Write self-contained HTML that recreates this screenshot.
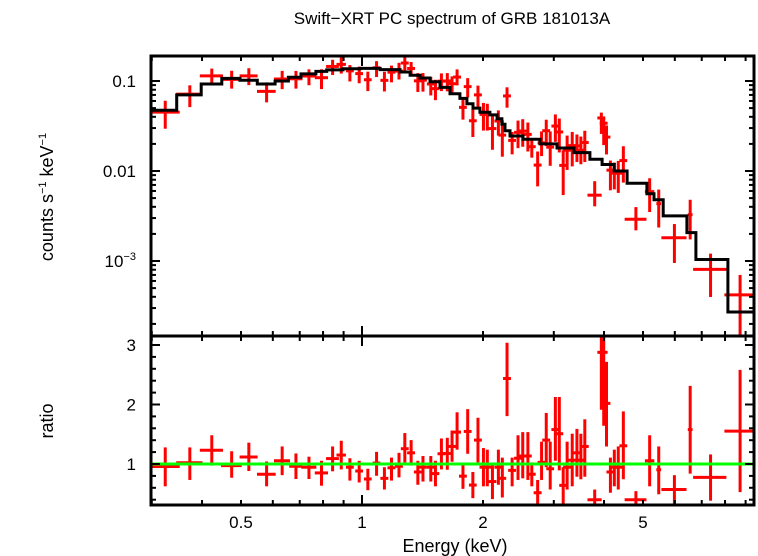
<!DOCTYPE html>
<html><head><meta charset="utf-8"><style>
html,body{margin:0;padding:0;background:#fff}
svg{display:block;font-family:"Liberation Sans",Arial,sans-serif}
</style></head><body>
<svg id="chart" width="758" height="556" viewBox="0 0 758 556" xmlns="http://www.w3.org/2000/svg">
<rect x="0" y="0" width="758" height="556" fill="#fff"/>
<text x="452" y="24" font-size="17" text-anchor="middle">Swift−XRT PC spectrum of GRB 181013A</text>
<text transform="translate(53,197) rotate(-90)" font-size="18" text-anchor="middle">counts s<tspan font-size="11" dy="-7">−1</tspan><tspan dy="7"> keV</tspan><tspan font-size="11" dy="-7">−1</tspan></text>
<text transform="translate(53,421) rotate(-90)" font-size="18" text-anchor="middle">ratio</text>
<text x="455" y="552" font-size="18" text-anchor="middle">Energy (keV)</text>
<g id="marks"></g>
<g id="axes"></g>
</svg>
<script>
const energies=[0.324,0.373,0.423,0.474,0.523,0.579,0.633,0.685,0.738,0.793,0.845,0.888,0.933,0.984,1.034,1.087,1.137,1.184,1.236,1.278,1.325,1.377,1.418,1.483,1.523,1.576,1.630,1.675,1.724,1.783,1.832,1.887,1.943,2.005,2.050,2.111,2.184,2.234,2.295,2.363,2.444,2.511,2.586,2.645,2.735,2.797,2.873,2.939,3.027,3.096,3.166,3.238,3.334,3.425,3.503,3.583,3.792,3.939,3.993,4.057,4.149,4.243,4.340,4.468,4.801,5.195,5.472,5.986,6.552,7.363,8.72];
const halfWidths=[0.028,0.028,0.028,0.028,0.027,0.031,0.029,0.026,0.032,0.030,0.031,0.024,0.021,0.022,0.023,0.024,0.026,0.027,0.028,0.029,0.030,0.031,0.032,0.033,0.034,0.035,0.037,0.038,0.039,0.040,0.041,0.042,0.044,0.045,0.046,0.048,0.049,0.050,0.052,0.053,0.055,0.057,0.058,0.060,0.062,0.063,0.065,0.066,0.068,0.070,0.071,0.073,0.075,0.077,0.079,0.081,0.154,0.089,0.090,0.091,0.093,0.095,0.098,0.10,0.30,0.14,0.075,0.43,0.09,0.70,0.75];
const ratios=[0.957,1.021,1.231,0.973,1.118,0.828,1.054,0.962,0.946,0.850,1.091,1.150,0.946,0.882,0.748,1.016,0.759,0.936,0.962,1.257,1.188,0.866,0.946,0.946,0.839,1.172,1.177,1.295,1.536,0.796,1.547,0.646,1.402,0.946,0.946,0.705,0.946,0.759,2.437,0.893,1.097,1.134,1.134,0.828,0.517,1.027,1.402,0.920,1.579,1.509,0.641,0.946,1.064,1.188,1.064,1.295,0.399,2.877,2.877,2.019,0.866,0.946,0.946,1.306,0.399,1.054,0.903,0.571,1.579,0.775,1.552];
const ratioHi=[1.279,1.279,1.483,1.214,1.359,1.043,1.295,1.177,1.123,1.054,1.295,1.391,1.097,1.054,0.920,1.204,0.946,1.107,1.188,1.520,1.402,1.054,1.134,1.134,1.054,1.429,1.440,1.563,1.869,1.000,1.922,0.866,1.777,1.268,1.241,1.000,1.241,1.107,3.038,1.107,1.483,1.536,1.536,1.027,0.732,1.375,1.858,1.375,2.126,2.126,0.946,1.375,1.509,1.590,1.509,1.751,0.571,3.3,3.3,2.716,1.107,1.241,1.295,1.885,0.544,1.483,1.295,0.812,2.314,1.161,2.582];
const ratioLo=[0.625,0.732,0.973,0.769,0.882,0.625,0.812,0.748,0.748,0.635,0.877,0.909,0.721,0.689,0.560,0.802,0.571,0.721,0.775,1.027,0.973,0.651,0.705,0.705,0.625,0.909,0.903,1.038,1.241,0.582,1.172,0.426,1.027,0.625,0.625,0.410,0.651,0.437,1.804,0.625,0.732,0.759,0.732,0.625,0.300,0.732,0.946,0.571,1.054,0.893,0.300,0.571,0.625,0.786,0.743,0.786,0.300,1.912,1.643,1.295,0.517,0.625,0.571,0.743,0.300,0.625,0.491,0.300,0.839,0.383,0.528];
const modelEdges=[0.293,0.346,0.398,0.448,0.497,0.549,0.608,0.656,0.705,0.768,0.817,0.897,0.989,1.109,1.243,1.317,1.394,1.476,1.563,1.655,1.752,1.824,1.888,1.965,2.081,2.168,2.229,2.269,2.334,2.515,2.772,3.055,3.368,3.69,3.955,4.239,4.566,5.114,5.327,5.613,6.43,6.77,8.13,9.5];
const modelValues=[0.0472,0.070,0.0926,0.107,0.102,0.0926,0.100,0.110,0.120,0.128,0.133,0.137,0.138,0.134,0.126,0.116,0.108,0.098,0.085,0.072,0.064,0.056,0.050,0.045,0.042,0.038,0.033,0.028,0.0245,0.0225,0.020,0.018,0.016,0.0135,0.0118,0.0100,0.0073,0.0056,0.0048,0.00317,0.00207,0.00104,0.000271];
const xMajor=[1];
const xMinor=[0.3,0.4,0.5,0.6,0.7,0.8,0.9,2,3,4,5,6,7,8,9];
const xLabels=[0.5,1,2,5];
const topMajor=[0.1,0.01,0.001];
const topLabels=["0.1","0.01","10|−3"];
const ratioMajor=[1,2,3];

const L=151,R=754,T=56,M=336,B=505;
const sx=e=>362+402*Math.log10(e);
const syT=v=>81-90*(Math.log10(v)+1);
const syB=r=>464-59.5*(r-1);
const NS="http://www.w3.org/2000/svg";
const marks=document.getElementById('marks'),axes=document.getElementById('axes');
function mk(tag,attrs,parent){const el=document.createElementNS(NS,tag);for(const k in attrs)el.setAttribute(k,attrs[k]);parent.appendChild(el);return el;}
function modelAt(e){for(let i=0;i<modelValues.length;i++){if(e>=modelEdges[i]&&e<modelEdges[i+1])return modelValues[i];}return modelValues[modelValues.length-1];}

const defs=mk('defs',{},marks);
const c1=mk('clipPath',{id:'cTop'},defs);mk('rect',{x:L,y:T,width:R-L,height:M-T},c1);
const c2=mk('clipPath',{id:'cBot'},defs);mk('rect',{x:L,y:M,width:R-L,height:B-M},c2);
const gTop=mk('g',{'clip-path':'url(#cTop)'},marks);


const gBot=mk('g',{'clip-path':'url(#cBot)'},marks);



for(let i=0;i<energies.length;i++){
  const e=energies[i],m=modelAt(e);
  const x=sx(e),x0=sx(e-halfWidths[i]),x1=sx(e+halfWidths[i]);
  const gt=mk('g',{stroke:'#f00','stroke-width':3},gTop);
  
  
  mk('line',{x1:x0,x2:x1,y1:syT(ratios[i]*m),y2:syT(ratios[i]*m)},gt);
  mk('line',{x1:x,x2:x,y1:syT(ratioHi[i]*m),y2:syT(Math.max(ratioLo[i],0.01)*m)},gt);
  const gb=mk('g',{stroke:'#f00','stroke-width':3},gBot);
  
  
  mk('line',{x1:x0,x2:x1,y1:syB(ratios[i]),y2:syB(ratios[i])},gb);
  mk('line',{x1:x,x2:x,y1:syB(ratioHi[i]),y2:syB(ratioLo[i])},gb);
}
let d='';
for(let i=0;i<modelValues.length;i++){
  const y=syT(modelValues[i]);
  d+=(i===0?'M':'L')+sx(modelEdges[i]).toFixed(1)+','+y.toFixed(1)+'L'+sx(modelEdges[i+1]).toFixed(1)+','+y.toFixed(1);
}
const mp=mk('path',{d:d,fill:'none',stroke:'#000','stroke-width':3},gTop);


const gl=mk('line',{x1:L,x2:R,y1:syB(1),y2:syB(1),stroke:'#00ff00','stroke-width':3},gBot);



const f1=mk('rect',{x:L,y:T,width:R-L,height:M-T,fill:'none',stroke:'#000','stroke-width':3},axes);


const f2=mk('rect',{x:L,y:M,width:R-L,height:B-M,fill:'none',stroke:'#000','stroke-width':3},axes);



function tick(x1,y1,x2,y2,name){const t=mk('line',{x1:x1,y1:y1,x2:x2,y2:y2,stroke:'#000','stroke-width':2},axes);

}
[[T,1],[M,-1],[M,1],[B,-1]].forEach(([y,dir])=>{
  xMajor.forEach(e=>tick(sx(e),y,sx(e),y+dir*10,'x-major-tick'));
  xMinor.forEach(e=>tick(sx(e),y,sx(e),y+dir*5,'x-minor-tick'));
});
xLabels.forEach(e=>{const t=mk('text',{x:sx(e),y:528,'font-size':17,'text-anchor':'middle'},axes);t.textContent=String(e);

});
for(let p=-4;p<=-1;p++){for(let k=1;k<=9;k++){const v=k*Math.pow(10,p);const y=syT(v);if(y<T||y>M)continue;const len=k===1?9:5;
tick(L,y,L+len,y,'top-y-tick');tick(R,y,R-len,y,'top-y-tick');}}
topMajor.forEach((v,i)=>{const parts=topLabels[i].split('|');const t=mk('text',{x:136,y:syT(v)+6,'font-size':17,'text-anchor':'end'},axes);


t.textContent=parts[0];if(parts[1]){const s=mk('tspan',{'font-size':11,dy:-7},t);s.textContent=parts[1];}});
for(let r=0.4;r<=3.11;r+=0.2){const y=syB(r);const major=Math.abs(r-Math.round(r))<0.01;const len=major?9:5;
tick(L,y,L+len,y,'ratio-y-tick');tick(R,y,R-len,y,'ratio-y-tick');}
ratioMajor.forEach(r=>{const t=mk('text',{x:136,y:syB(r)+6,'font-size':17,'text-anchor':'end'},axes);t.textContent=String(r);

});
</script>
</body></html>
